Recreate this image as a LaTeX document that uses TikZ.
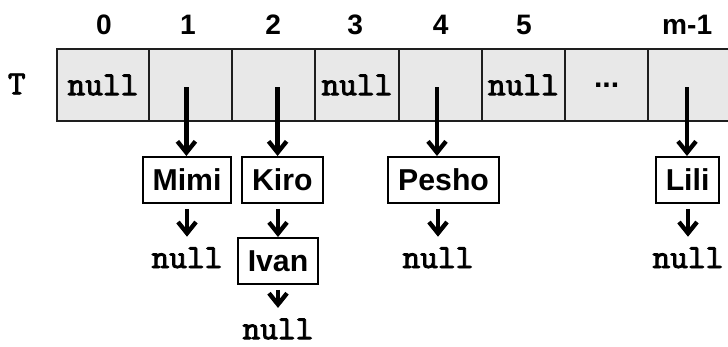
\documentclass[tikz,border=0pt]{standalone}
\usepackage{fontspec}
\setsansfont{Liberation Sans}
\newfontfamily\codefont{lmmono10-regular.otf}[FakeBold=2.5]
\usetikzlibrary{arrows.meta}
\definecolor{cellgray}{RGB}{232,232,232}
\definecolor{linegray}{RGB}{30,30,30}

\begin{document}
\begin{tikzpicture}[
 cell/.style={draw=linegray, fill=cellgray, line width=1.4pt, minimum height=1.8cm,
  minimum width=2.08cm, inner sep=0pt, font=\fontsize{24}{26}\codefont},
 item/.style={draw, line width=1.4pt, minimum height=1.15cm, inner xsep=0.25cm,
  inner ysep=0pt, font=\fontsize{21.5}{24}\sffamily\bfseries},
 nil/.style={inner sep=0pt, anchor=base, text height=0.775cm, text depth=0pt,
  font=\fontsize{24}{26}\codefont},
 idx/.style={font=\fontsize{20}{24}\sffamily\bfseries},
 >={Straight Barb[length=0.28cm,width=0.45cm]},
 ptr/.style={->, line width=3.1pt}
]
 \useasboundingbox (0,0) rectangle (18.2,8.65);
 % hash table
 \node[font=\fontsize{24}{26}\codefont] (T) at (0.42,6.55) {T};
 \node[cell, minimum width=2.3cm] (C0) at (2.575,6.525) {null};
 \node[cell] (C1) at (4.765,6.525) {};
 \node[cell] (C2) at (6.845,6.525) {};
 \node[cell] (C3) at (8.925,6.525) {null};
 \node[cell] (C4) at (11.005,6.525) {};
 \node[cell] (C5) at (13.085,6.525) {null};
 \node[cell, font=\fontsize{21.5}{24}\sffamily\bfseries] (C6) at (15.165,6.525) {\raisebox{-4pt}{...}};
 \node[cell] (C7) at (17.245,6.525) {};
 \node[idx] (L0) at (2.6,8.025) {0};
 \node[idx] (L1) at (4.7,8.025) {1};
 \node[idx] (L2) at (6.83,8.025) {2};
 \node[idx] (L3) at (8.88,8.025) {3};
 \node[idx] (L4) at (11.02,8.025) {4};
 \node[idx] (L5) at (13.1,8.025) {5};
 \node[idx] (L7) at (17.18,8.025) {m-1};
 % chains
 \node[item] (Mimi) at (4.675,4.15) {Mimi};
 \node[item] (Kiro) at (7.06,4.15) {Kiro};
 \node[item] (Ivan) at (6.95,2.125) {Ivan};
 \node[item] (Pesho) at (11.09,4.15) {Pesho};
 \node[item] (Lili) at (17.19,4.15) {Lili};
 \node[nil] (N1) at (4.675,1.95) {null};
 \node[nil] (N2) at (6.95,0.17) {null};
 \node[nil] (N4) at (10.95,1.95) {null};
 \node[nil] (N7) at (17.2,1.95) {null};
 \coordinate (P1) at (4.66,6.475);
 \coordinate (P2) at (6.94,6.475);
 \coordinate (P4) at (10.925,6.475);
 \coordinate (P7) at (17.175,6.475);
 \draw[ptr] (P1) to (P1 |- Mimi.north);
 \draw[ptr] (P2) to (P2 |- Kiro.north);
 \draw[ptr] (P4) to (P4 |- Pesho.north);
 \draw[ptr] (P7) to (P7 |- Lili.north);
 \draw[ptr, shorten <=0.125cm] (Mimi) to (N1);
 \draw[ptr, shorten <=0.125cm] (Kiro.south -| Ivan) to (Ivan);
 \draw[ptr, shorten <=0.125cm] (Ivan) to (N2);
 \draw[ptr, shorten <=0.125cm] (Pesho.south -| N4) to (N4);
 \draw[ptr, shorten <=0.125cm] (Lili.south -| N7) to (N7);
\end{tikzpicture}
\end{document}
